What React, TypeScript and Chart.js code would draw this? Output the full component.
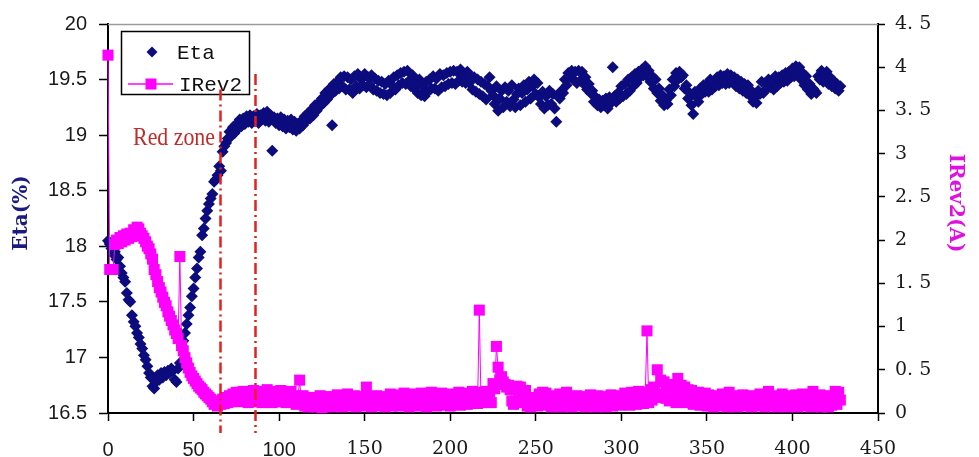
import React, { useEffect, useRef } from "react";
import { Chart, registerables } from "chart.js";

Chart.register(...registerables);

// ---- data (one sample per x unit, from 0 to 428) ----
const X_STEP = 1;

const xTickMin = 0;
const xTickMax = 450;
const xTickStep = 50;

const etaTickMin = 16.5;
const etaTickMax = 20;
const irevTickMin = 0;
const irevTickMax = 4.5;

// Eta (%), left axis
const etaValues = [
  18.05, 18.02, 17.98, 17.93, 17.95, 17.88, 17.9, 17.82, 17.76, 17.72,
  17.68, 17.58, 17.52, 17.5, 17.38, 17.32, 17.28, 17.22, 17.18, 17.12,
  17.08, 17.02, 16.98, 16.92, 16.86, 16.82, 16.74, 16.72, 16.78, 16.84,
  16.8, 16.86, 16.82, 16.87, 16.84, 16.88, 16.86, 16.9, 16.88, 16.8,
  16.78, 16.9, 16.95, 17.1, 17.15, 17.22, 17.3, 17.38, 17.45, 17.55,
  17.62, 17.72, 17.8, 17.9, 17.95, 18.1, 18.16, 18.25, 18.32, 18.38,
  18.43, 18.47, 18.58, 18.6, 18.64, 18.72, 18.68, 18.85, 18.9, 18.93,
  18.97, 19.03, 18.99, 19.07, 19.02, 19.1, 19.06, 19.14, 19.08, 19.15,
  19.1, 19.17, 19.12, 19.18, 19.11, 19.17, 19.13, 19.19, 19.11, 19.18,
  19.14, 19.2, 19.13, 19.21, 19.12, 19.18, 18.86, 19.16, 19.11, 19.15,
  19.09, 19.16, 19.08, 19.14, 19.06, 19.13, 19.07, 19.14, 19.05, 19.12,
  19.04, 19.1, 19.06, 19.13, 19.09, 19.17, 19.13, 19.2, 19.15, 19.23,
  19.18, 19.27, 19.22, 19.29, 19.26, 19.33, 19.29, 19.38, 19.32, 19.41,
  19.36, 19.09, 19.46, 19.4, 19.48, 19.42, 19.52, 19.44, 19.53, 19.41,
  19.52, 19.41, 19.5, 19.38, 19.53, 19.44, 19.55, 19.42, 19.5, 19.45,
  19.55, 19.43, 19.52, 19.45, 19.54, 19.41, 19.51, 19.4, 19.49, 19.38,
  19.48, 19.37, 19.46, 19.36, 19.49, 19.38, 19.45, 19.52, 19.41, 19.54,
  19.45, 19.56, 19.47, 19.57, 19.46, 19.58, 19.49, 19.44, 19.54, 19.42,
  19.48, 19.38, 19.5, 19.36, 19.44, 19.35, 19.48, 19.39, 19.5, 19.42,
  19.53, 19.42, 19.51, 19.4, 19.55, 19.43, 19.54, 19.44, 19.56, 19.46,
  19.57, 19.47, 19.58, 19.46, 19.57, 19.49, 19.59, 19.48, 19.54, 19.47,
  19.57, 19.47, 19.53, 19.41, 19.52, 19.39, 19.5, 19.37, 19.48, 19.35,
  19.46, 19.32, 19.44, 19.52, 19.4, 19.36, 19.28, 19.44, 19.22, 19.33,
  19.4, 19.25, 19.43, 19.3, 19.4, 19.26, 19.45, 19.32, 19.25, 19.37,
  19.42, 19.27, 19.38, 19.45, 19.3, 19.41, 19.48, 19.33, 19.44, 19.5,
  19.37, 19.47, 19.34, 19.28, 19.39, 19.24, 19.35, 19.27, 19.4, 19.28,
  19.37, 19.24, 19.12, 19.36, 19.33, 19.4, 19.38, 19.5, 19.45, 19.56,
  19.52, 19.58, 19.5, 19.57, 19.47, 19.58, 19.49, 19.57, 19.46, 19.52,
  19.41, 19.46, 19.38, 19.4, 19.3, 19.34, 19.27, 19.32, 19.25, 19.31,
  19.27, 19.33, 19.24, 19.34, 19.29, 19.61, 19.35, 19.3, 19.38, 19.33,
  19.44, 19.35, 19.46, 19.37, 19.5, 19.4, 19.52, 19.44, 19.55, 19.47,
  19.57, 19.52, 19.59, 19.54, 19.62, 19.53, 19.58, 19.48, 19.53, 19.42,
  19.5, 19.38, 19.42, 19.31, 19.36, 19.27, 19.31, 19.28, 19.41, 19.36,
  19.5, 19.44, 19.56, 19.5, 19.57, 19.52, 19.54, 19.42, 19.45, 19.33,
  19.38, 19.27, 19.19, 19.39, 19.34, 19.3, 19.42, 19.37, 19.45, 19.39,
  19.46, 19.39, 19.5, 19.41, 19.48, 19.44, 19.52, 19.45, 19.54, 19.47,
  19.53, 19.46, 19.55, 19.47, 19.54, 19.48, 19.52, 19.44, 19.5, 19.42,
  19.48, 19.4, 19.46, 19.38, 19.45, 19.36, 19.4, 19.3, 19.34, 19.29,
  19.4, 19.37, 19.48, 19.38, 19.47, 19.42, 19.5, 19.43, 19.49, 19.41,
  19.53, 19.44, 19.52, 19.47, 19.54, 19.48, 19.56, 19.49, 19.57, 19.52,
  19.6, 19.53, 19.62, 19.55, 19.61, 19.5, 19.56, 19.45, 19.53, 19.41,
  19.46, 19.37, 19.42, 19.4, 19.38, 19.53, 19.5, 19.58, 19.48, 19.55,
  19.57, 19.46, 19.52, 19.44, 19.49, 19.42, 19.46, 19.4, 19.44,
];

// IRev2 (A), right axis
const irevValues = [
  4.14, 1.66, 1.66, 1.66, 1.95, 2.0, 1.96, 2.03, 1.98, 2.05,
  2.0, 2.07, 2.02, 2.08, 2.04, 2.12, 2.06, 2.15, 2.13, 2.08,
  2.05, 2.02, 1.98, 1.93, 1.9, 1.84, 1.78, 1.66, 1.6, 1.52,
  1.45, 1.4, 1.34, 1.28, 1.24, 1.17, 1.12, 1.07, 1.02, 0.96,
  0.92, 0.86, 1.81, 0.78, 0.72, 0.64, 0.58, 0.52, 0.47, 0.43,
  0.4, 0.37, 0.34, 0.31, 0.29, 0.27, 0.24, 0.22, 0.2, 0.18,
  0.16, 0.13, 0.1, 0.14, 0.08, 0.13, 0.1, 0.16, 0.11, 0.18,
  0.12, 0.2, 0.14, 0.22, 0.15, 0.24, 0.13, 0.22, 0.16, 0.25,
  0.14, 0.23, 0.12, 0.22, 0.18, 0.26, 0.13, 0.21, 0.15, 0.25,
  0.12, 0.24, 0.16, 0.27, 0.14, 0.22, 0.12, 0.25, 0.17, 0.23,
  0.13, 0.26, 0.15, 0.24, 0.12, 0.22, 0.16, 0.25, 0.13, 0.2,
  0.1, 0.18, 0.38, 0.12, 0.2, 0.08, 0.17, 0.07, 0.15, 0.09,
  0.18, 0.07, 0.14, 0.09, 0.2, 0.06, 0.16, 0.1, 0.19, 0.08,
  0.15, 0.07, 0.18, 0.1, 0.21, 0.08, 0.16, 0.07, 0.19, 0.11,
  0.22, 0.08, 0.17, 0.1, 0.2, 0.07, 0.15, 0.09, 0.19, 0.08,
  0.17, 0.3, 0.1, 0.18, 0.07, 0.16, 0.09, 0.2, 0.08, 0.15,
  0.1, 0.19, 0.07, 0.16, 0.09, 0.22, 0.08, 0.17, 0.1, 0.21,
  0.08, 0.18, 0.11, 0.23, 0.09, 0.2, 0.07, 0.17, 0.12, 0.22,
  0.09, 0.19, 0.08, 0.23, 0.11, 0.18, 0.07, 0.2, 0.1, 0.24,
  0.12, 0.2, 0.08, 0.17, 0.1, 0.23, 0.09, 0.19, 0.11, 0.22,
  0.08, 0.21, 0.1, 0.18, 0.12, 0.24, 0.09, 0.2, 0.11, 0.22,
  0.1, 0.23, 0.12, 0.25, 0.13, 0.22, 0.11, 1.19, 0.12, 0.24,
  0.13, 0.25, 0.14, 0.24, 0.12, 0.34, 0.28, 0.77, 0.53, 0.38,
  0.42, 0.36, 0.33, 0.3, 0.32, 0.27, 0.14, 0.1, 0.28, 0.31,
  0.22, 0.3, 0.12, 0.2, 0.26, 0.08, 0.17, 0.07, 0.14, 0.09,
  0.18, 0.08, 0.22, 0.1, 0.24, 0.12, 0.23, 0.09, 0.18, 0.07,
  0.15, 0.08, 0.2, 0.1, 0.22, 0.07, 0.16, 0.1, 0.24, 0.08,
  0.14, 0.07, 0.18, 0.09, 0.2, 0.08, 0.15, 0.1, 0.19, 0.07,
  0.17, 0.09, 0.21, 0.08, 0.19, 0.07, 0.2, 0.1, 0.18, 0.08,
  0.16, 0.07, 0.19, 0.09, 0.21, 0.08, 0.17, 0.1, 0.2, 0.09,
  0.18, 0.1, 0.23, 0.11, 0.19, 0.09, 0.24, 0.12, 0.2, 0.1,
  0.25, 0.13, 0.22, 0.11, 0.24, 0.95, 0.12, 0.27, 0.15, 0.3,
  0.18, 0.5, 0.22, 0.38, 0.2, 0.36, 0.17, 0.3, 0.14, 0.33,
  0.16, 0.28, 0.12, 0.4, 0.18, 0.32, 0.14, 0.3, 0.12, 0.27,
  0.15, 0.26, 0.1, 0.22, 0.12, 0.24, 0.09, 0.2, 0.11, 0.23,
  0.08, 0.21, 0.1, 0.18, 0.07, 0.2, 0.09, 0.17, 0.11, 0.22,
  0.08, 0.19, 0.07, 0.24, 0.1, 0.18, 0.08, 0.2, 0.07, 0.17,
  0.1, 0.21, 0.08, 0.18, 0.11, 0.2, 0.07, 0.16, 0.09, 0.19,
  0.08, 0.22, 0.1, 0.19, 0.07, 0.21, 0.25, 0.09, 0.18, 0.08,
  0.2, 0.07, 0.17, 0.1, 0.22, 0.08, 0.18, 0.07, 0.2, 0.09,
  0.19, 0.08, 0.21, 0.07, 0.18, 0.1, 0.22, 0.08, 0.17, 0.09,
  0.2, 0.07, 0.25, 0.1, 0.18, 0.08, 0.21, 0.07, 0.19, 0.1,
  0.16, 0.07, 0.2, 0.09, 0.17, 0.25, 0.1, 0.24, 0.15,
];

// Red zone markers (x positions and Eta extents of the dash-dot lines)
const redZoneX = [65.5, 86];
const redZoneTopEta = [19.41, 19.55];
const redZoneBottomEta = 16.32;
const redZoneLabel = "Red zone";
const redZoneLabelX = 62.5;
const redZoneLabelEta = 18.91;

const ETA_COLOR = "#0c0c7e";
const IREV_COLOR = "#ff00ff";

const decorPlugin = {
  id: "decor",
  afterDraw(chart: any) {
    const { ctx, chartArea, scales } = chart;
    const { left, right, top } = chartArea;
    ctx.save();

    // top border
    ctx.strokeStyle = "#9a9a9a";
    ctx.lineWidth = 1.5;
    ctx.beginPath();
    ctx.moveTo(left, top + 0.5);
    ctx.lineTo(right, top + 0.5);
    ctx.stroke();

    // axis titles
    ctx.font = "bold 20px 'DejaVu Serif'";
    ctx.textAlign = "center";
    ctx.textBaseline = "middle";
    ctx.fillStyle = "#1a1a80";
    ctx.save();
    ctx.translate(22, 213);
    ctx.rotate(-Math.PI / 2);
    ctx.fillText("Eta(%)", 0, 0);
    ctx.restore();

    ctx.fillStyle = "#e010e0";
    ctx.save();
    ctx.translate(955, 203);
    ctx.rotate(Math.PI / 2);
    ctx.fillText("IRev2(A)", 0, 0);
    ctx.restore();

    // legend
    const bx = left + 13;
    const by = top + 7;
    ctx.fillStyle = "#fff";
    ctx.fillRect(bx, by, 129, 64);
    ctx.strokeStyle = "#000";
    ctx.lineWidth = 1.5;
    ctx.strokeRect(bx + 0.5, by + 0.5, 128, 63);

    // Eta entry
    const dx = bx + 31;
    const dy = by + 21;
    ctx.fillStyle = ETA_COLOR;
    ctx.beginPath();
    ctx.moveTo(dx, dy - 5.5);
    ctx.lineTo(dx + 5.5, dy);
    ctx.lineTo(dx, dy + 5.5);
    ctx.lineTo(dx - 5.5, dy);
    ctx.closePath();
    ctx.fill();
    ctx.fillStyle = "#111";
    ctx.font = "21px 'Liberation Mono'";
    ctx.textAlign = "left";
    ctx.textBaseline = "middle";
    ctx.fillText("Eta", bx + 56, dy + 1);

    // IRev2 entry
    const ly = by + 53;
    ctx.strokeStyle = IREV_COLOR;
    ctx.lineWidth = 1.5;
    ctx.beginPath();
    ctx.moveTo(bx + 7, ly);
    ctx.lineTo(bx + 52, ly);
    ctx.stroke();
    ctx.fillStyle = IREV_COLOR;
    ctx.fillRect(bx + 30 - 5.5, ly - 5.5, 11, 11);
    ctx.fillStyle = "#111";
    ctx.fillText("IRev2", bx + 58, ly + 1);

    // red zone lines
    const xs = scales.x;
    const ys = scales.y;
    ctx.strokeStyle = "#e4211c";
    ctx.lineWidth = 2.5;
    ctx.setLineDash([11, 4, 2, 4]);
    redZoneX.forEach((xv, i) => {
      const px = Math.round(xs.getPixelForValue(xv)) + 0.5;
      ctx.beginPath();
      ctx.moveTo(px, ys.getPixelForValue(redZoneTopEta[i]));
      ctx.lineTo(px, ys.getPixelForValue(redZoneBottomEta));
      ctx.stroke();
    });
    ctx.setLineDash([]);

    // red zone label (condensed serif)
    ctx.fillStyle = "#c42a2a";
    ctx.font = "26px 'Liberation Serif'";
    ctx.textAlign = "right";
    ctx.textBaseline = "alphabetic";
    ctx.save();
    ctx.translate(xs.getPixelForValue(redZoneLabelX), ys.getPixelForValue(redZoneLabelEta));
    ctx.scale(0.84, 1);
    ctx.fillText(redZoneLabel, 0, 0);
    ctx.restore();

    ctx.restore();
  },
};

export default function App() {
  const canvasRef = useRef<HTMLCanvasElement>(null);

  useEffect(() => {
    const canvas = canvasRef.current;
    if (!canvas) return;

    const etaPoints = etaValues.map((v, i) => ({ x: i * X_STEP, y: v }));
    const irevPoints = irevValues.map((v, i) => ({ x: i * X_STEP, y: v }));

    const chart = new Chart(canvas, {
      type: "scatter",
      data: {
        datasets: [
          {
            type: "scatter",
            label: "Eta",
            data: etaPoints,
            yAxisID: "y",
            pointStyle: "rectRot",
            pointRadius: 6,
            backgroundColor: ETA_COLOR,
            borderColor: ETA_COLOR,
            pointBorderWidth: 0,
            order: 2,
            clip: false,
          } as any,
          {
            type: "line",
            label: "IRev2",
            data: irevPoints,
            yAxisID: "y1",
            pointStyle: "rect",
            pointRadius: 7.8,
            backgroundColor: IREV_COLOR,
            borderColor: IREV_COLOR,
            borderWidth: 1,
            pointBorderWidth: 0,
            tension: 0,
            order: 1,
            clip: false,
          } as any,
        ],
      },
      options: {
        responsive: false,
        animation: false,
        devicePixelRatio: 1,
        layout: { padding: { top: 21, left: 0, right: 0, bottom: 0 } },
        plugins: {
          legend: { display: false },
          tooltip: { enabled: false },
        },
        scales: {
          x: {
            type: "linear",
            position: "bottom",
            min: xTickMin,
            max: xTickMax,
            afterFit: (s: any) => {
              s.height = 44;
            },
            ticks: {
              stepSize: xTickStep,
              padding: 17,
              color: "#1a1a1a",
              maxRotation: 0,
              font: (c: any) =>
                c.tick && c.tick.value <= 100
                  ? { family: "'Liberation Sans'", size: 20 }
                  : { family: "'DejaVu Serif'", size: 19 },
            },
            grid: {
              drawOnChartArea: false,
              drawTicks: true,
              tickLength: 8,
              tickColor: "#000",
              tickWidth: 1.5,
            },
            border: { display: true, color: "#000", width: 2 },
          },
          y: {
            type: "linear",
            position: "left",
            min: etaTickMin,
            max: etaTickMax,
            afterFit: (s: any) => {
              s.width = 108;
            },
            ticks: {
              stepSize: 0.5,
              padding: 12,
              color: "#1a1a1a",
              font: { family: "'Liberation Sans'", size: 20 },
              callback: (v: any) => String(Number(Number(v).toFixed(1))),
            },
            grid: {
              drawOnChartArea: false,
              drawTicks: true,
              tickLength: 9,
              tickColor: "#000",
              tickWidth: 1.5,
            },
            border: { display: true, color: "#000", width: 2 },
          },
          y1: {
            type: "linear",
            position: "right",
            min: irevTickMin,
            max: irevTickMax,
            afterFit: (s: any) => {
              s.width = 101;
            },
            ticks: {
              stepSize: 0.5,
              padding: 10,
              color: "#1a1a1a",
              font: { family: "'DejaVu Serif'", size: 19 },
              callback: (v: any) => String(Number(Number(v).toFixed(1))).replace(".", ". "),
            },
            grid: {
              drawOnChartArea: false,
              drawTicks: true,
              tickLength: 7,
              tickColor: "#000",
              tickWidth: 1.5,
            },
            border: { display: true, color: "#000", width: 2 },
          },
        },
      },
      plugins: [decorPlugin],
    });

    return () => chart.destroy();
  }, []);

  return (
    <div
      style={{
        position: "fixed",
        left: 0,
        top: 0,
        width: 979,
        height: 457,
        background: "#fff",
      }}
    >
      <canvas
        ref={canvasRef}
        width={979}
        height={457}
        style={{ display: "block", width: 979, height: 457 }}
      />
    </div>
  );
}
